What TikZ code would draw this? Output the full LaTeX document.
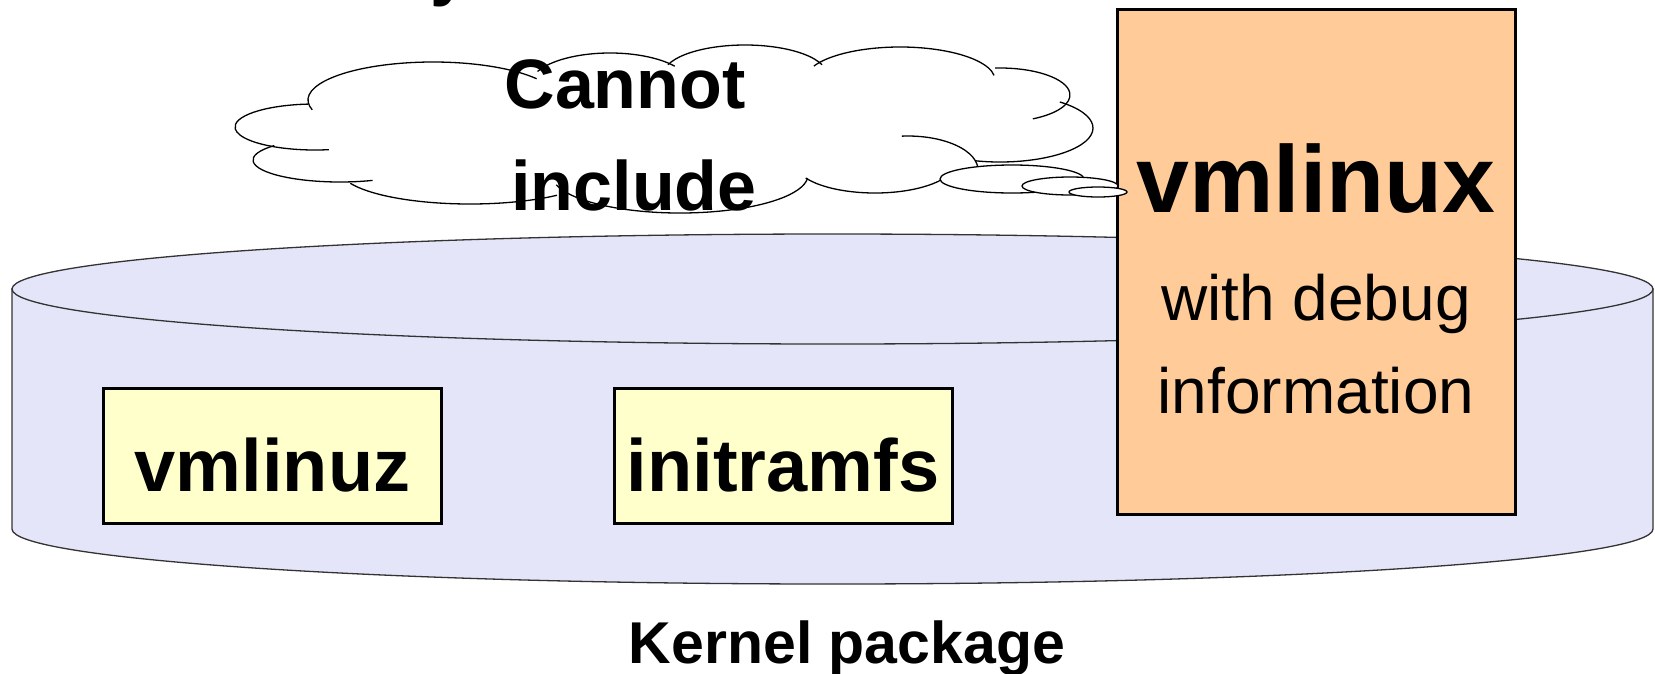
\documentclass[tikz,border=0pt]{standalone}
\usepackage{fontspec}
\setmainfont{Liberation Sans}
\definecolor{drum}{RGB}{229,229,250}
\definecolor{filebox}{RGB}{255,255,204}
\definecolor{debugbox}{RGB}{255,204,153}
\newcommand\pxfont[1]{\fontsize{#1}{#1}\selectfont}
% one puff of the thought cloud: centre x, centre y (downwards), x radius, y radius, start angle, end angle
\newcommand\cloudpuff[6]{\draw[cloudline] (#1,-#2) ++(#5:#3 and #4) arc[start angle=#5, end angle=#6, x radius=#3, y radius=#4];}

\begin{document}
\begin{tikzpicture}[x=1pt,y=1pt,
  drumline/.style={draw=black!80, line width=1.3pt},
  cloudline/.style={draw=black, line width=1.3pt},
  bubble/.style={cloudline, fill=white},
  filerect/.style={draw=black, line width=3.5pt, fill=filebox,
    minimum width=338pt, minimum height=135pt, inner sep=0pt},
  debugrect/.style={draw=black, line width=3.5pt, fill=debugbox,
    minimum width=398pt, minimum height=505pt, inner sep=0pt},
  label/.style={inner sep=0pt, anchor=base}
]
\useasboundingbox (0,0) rectangle (1655,-673);

% tail of the heading above the picture
\node[label, anchor=base west, font=\pxfont{70}\bfseries] (heading) at (430,8) {y};

% package drum
\path[fill=drum, drumline] (12,-289) -- (12,-529)
  arc[start angle=180, end angle=360, x radius=820.5, y radius=55]
  -- (1653,-289) -- cycle;
\draw[drumline, fill=drum] (832.5,-289) ellipse[x radius=820.5, y radius=55];

% thought cloud
\cloudpuff{315}{127}{80}{23}{95}{280}
\cloudpuff{433}{100}{125}{38}{195}{34}
\cloudpuff{610}{85}{80}{32}{155}{36}
\cloudpuff{745}{75}{82}{30}{160}{20}
\cloudpuff{900}{80}{95}{33}{155}{8}
\cloudpuff{1000}{95}{70}{27}{94}{-62}
\cloudpuff{1000}{128}{93}{34}{50}{-105}
\cloudpuff{908}{170}{70}{34}{95}{-15}
\cloudpuff{875}{163}{80}{30}{210}{330}
\cloudpuff{680}{175}{128}{38}{195}{355}
\cloudpuff{470}{170}{130}{34}{203}{312}
\cloudpuff{340}{160}{87}{22}{139}{292}

% files inside the package
\node[filerect] (vmlinuz) at (272.5,-456) {};
\node[filerect] (initramfs) at (783.5,-456) {};
\node[debugrect] (vmlinux) at (1316.5,-262) {};

% bubbles leading from the cloud to vmlinux
\draw[bubble] (1012,-179) ellipse[x radius=72, y radius=14];
\draw[bubble] (1070,-186) ellipse[x radius=48, y radius=9];
\draw[bubble] (1098,-192) ellipse[x radius=29, y radius=5];

% texts
\node[label, font=\pxfont{70}\bfseries] (cannot) at (625,-108) {Cannot};
\node[label, font=\pxfont{70}\bfseries] (include) at (634,-210) {include};
\node[label, font=\pxfont{74}\bfseries] (vmlinuzname) at (272.5,-491) {vmlinuz};
\node[label, font=\pxfont{74}\bfseries] (initramfsname) at (783,-491) {initramfs};
\node[label, font=\pxfont{95}\bfseries] (vmlinuxname) at (1316,-212) {vmlinux};
\node[label, font=\pxfont{64}] (withdebug) at (1316,-320) {with debug};
\node[label, font=\pxfont{64}] (information) at (1316,-413) {information};
\node[label, font=\pxfont{59}\bfseries] (package) at (847,-663) {Kernel package};
\end{tikzpicture}
\end{document}
